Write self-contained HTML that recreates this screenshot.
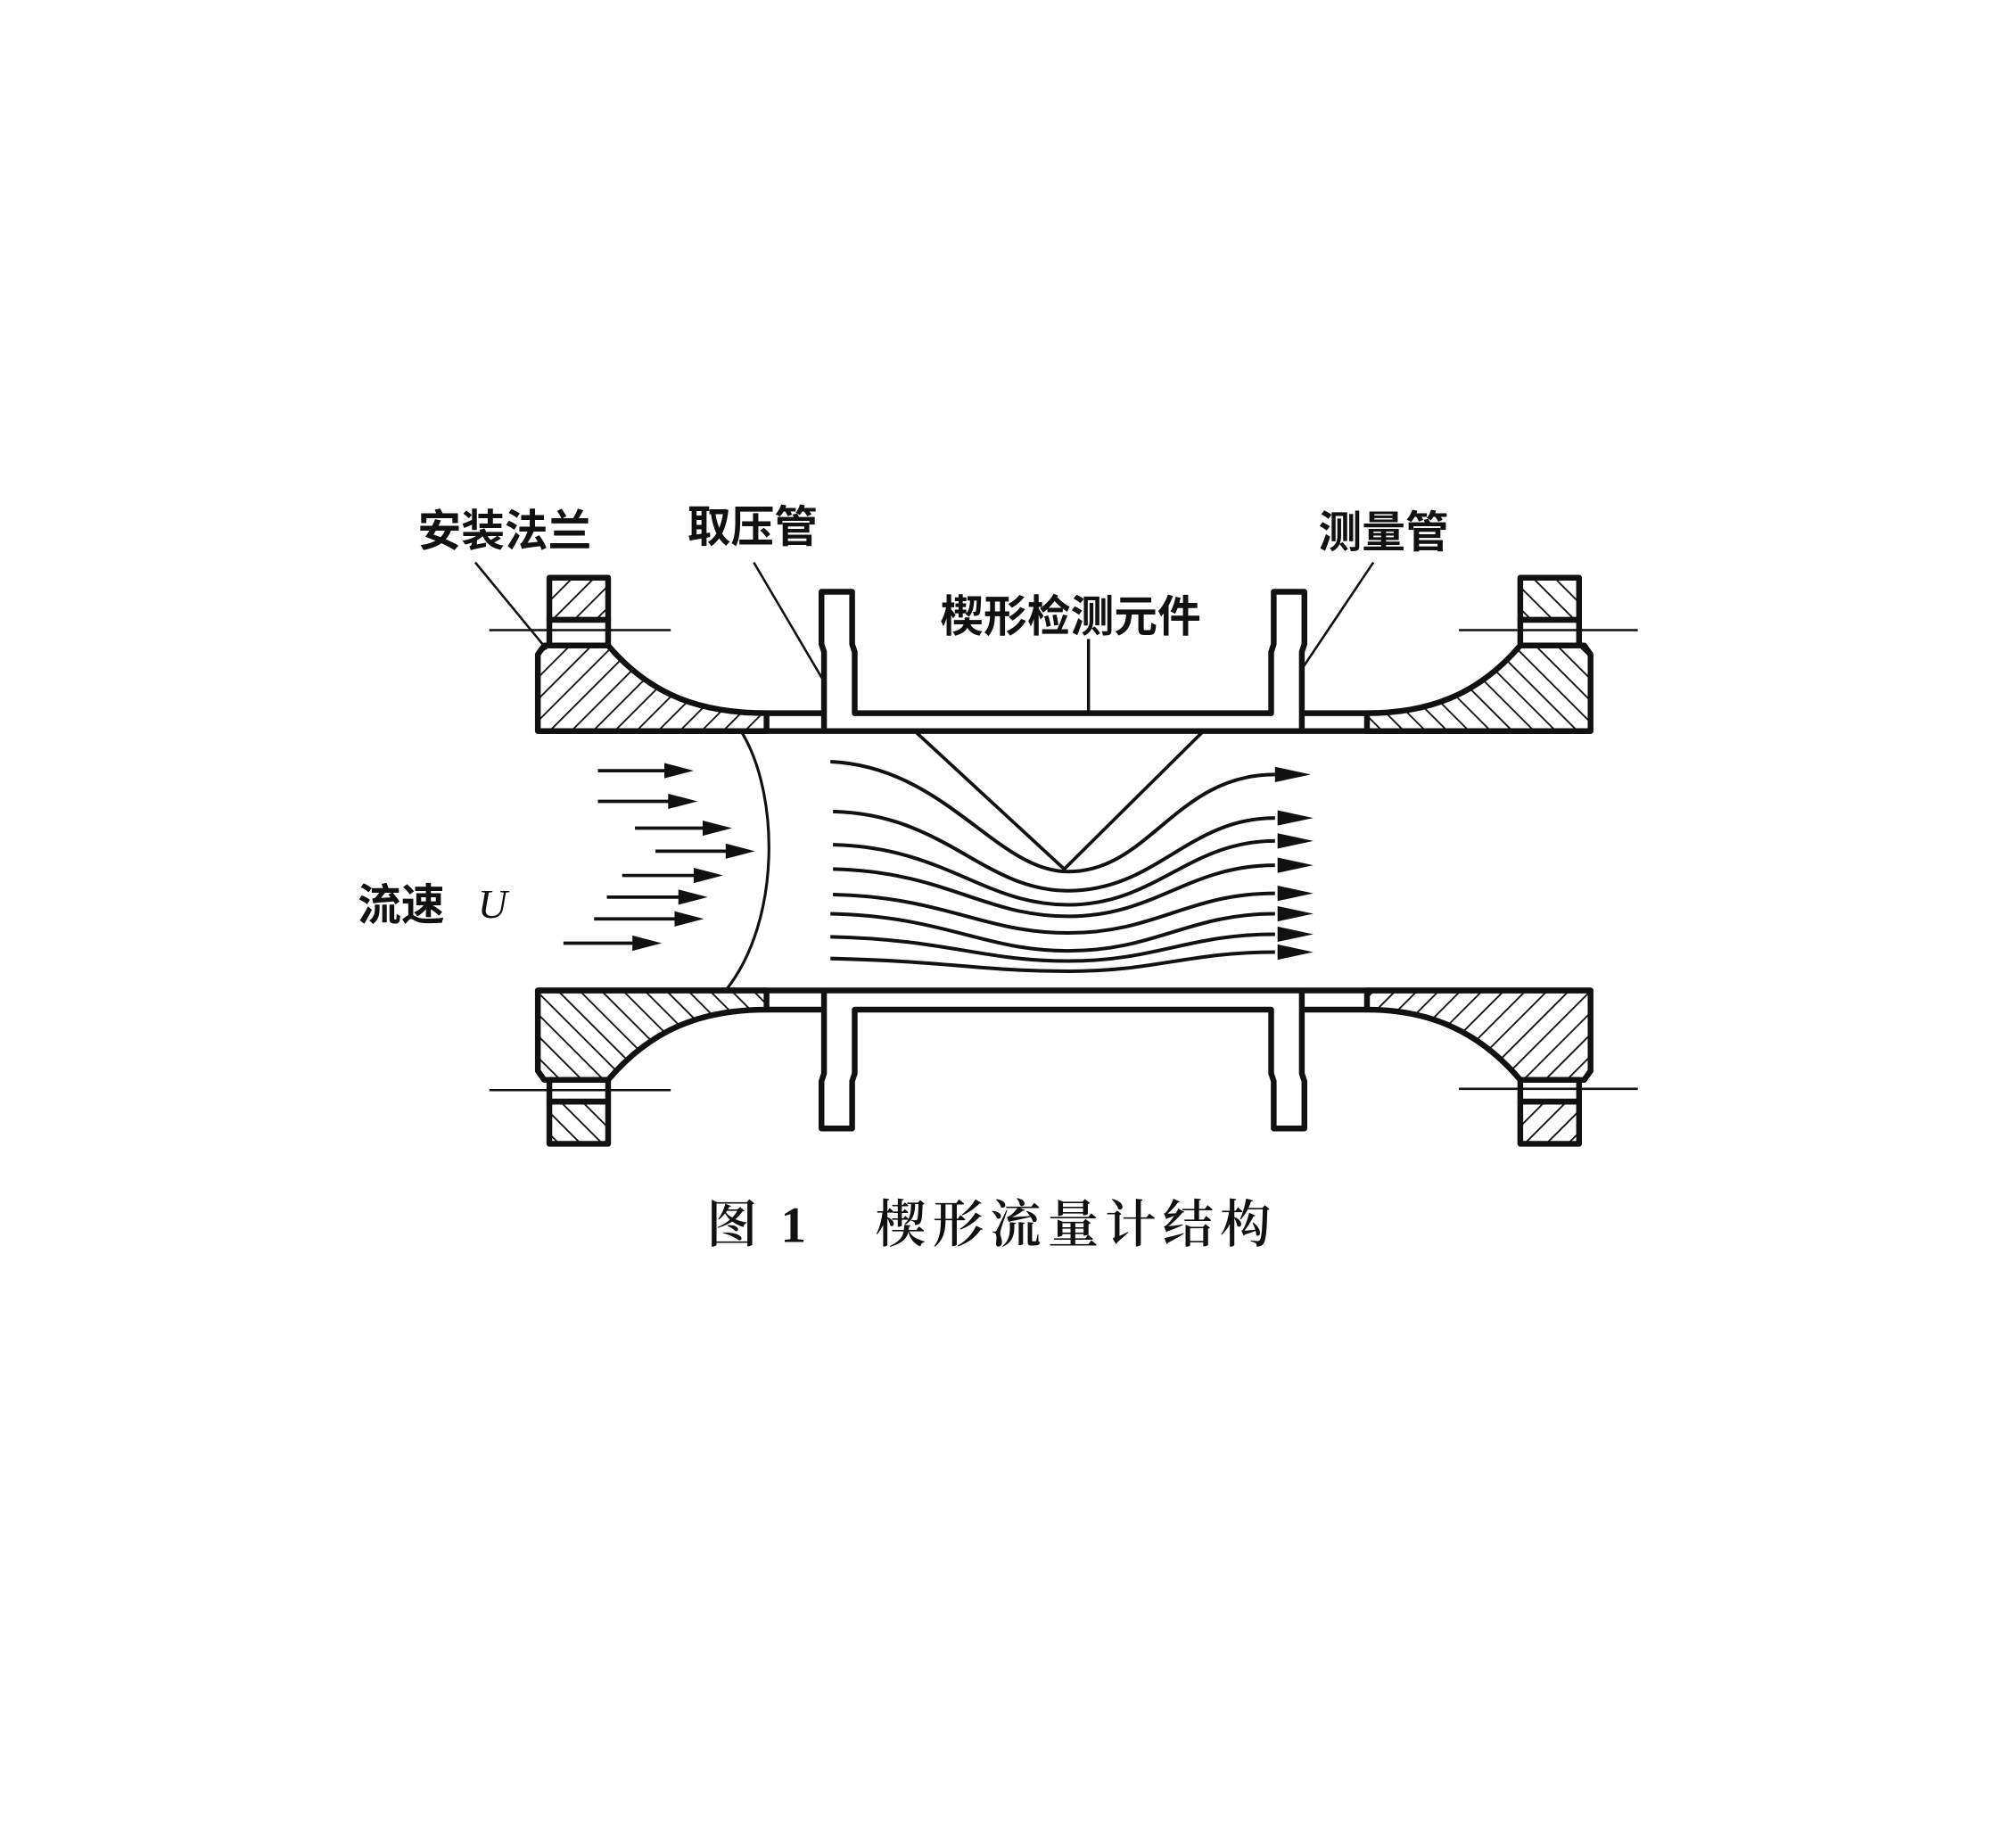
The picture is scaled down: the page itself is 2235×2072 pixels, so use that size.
<!DOCTYPE html>
<html><head><meta charset="utf-8"><style>
html,body{margin:0;padding:0;background:#fff;}
svg{display:block;}
text{font-family:"Liberation Serif","Noto Serif CJK SC","Noto Sans CJK SC",serif;fill:#111;}
</style></head><body>
<svg width="2235" height="2072" viewBox="0 0 1560 1446" xmlns="http://www.w3.org/2000/svg">
<defs>
<pattern id="h" patternUnits="userSpaceOnUse" width="12" height="12" patternTransform="rotate(45)">
<line x1="0" y1="0" x2="0" y2="12" stroke="#111" stroke-width="2.6"/>
</pattern>
<pattern id="h2" patternUnits="userSpaceOnUse" width="12" height="12" patternTransform="rotate(-45)">
<line x1="0" y1="0" x2="0" y2="12" stroke="#111" stroke-width="2.6"/>
</pattern>
</defs>
<g stroke="#111" stroke-width="4.5" fill="none" stroke-linejoin="round">
<rect x="430" y="452" width="46" height="33" fill="url(#h)"/>
<rect x="430" y="485" width="46" height="20" fill="#fff"/>
<path d="M426 505 L476 505 C510 545 550 558 600 558 L600 572 L421 572 L421 512 Z" fill="url(#h)"/>
<path d="M421 775 L600 775 L600 790 C550 790 510 805 476 845 L426 845 L421 838 Z" fill="url(#h2)"/>
<rect x="430" y="845" width="46" height="17" fill="#fff"/>
<rect x="430" y="862" width="46" height="33" fill="url(#h2)"/>
<rect x="1190" y="452" width="46" height="33" fill="url(#h2)"/>
<rect x="1190" y="485" width="46" height="20" fill="#fff"/>
<path d="M1240 505 L1190 505 C1156 545 1116 558 1070 558 L1070 572 L1245 572 L1245 512 Z" fill="url(#h2)"/>
<path d="M1245 775 L1070 775 L1070 790 C1116 790 1156 805 1190 845 L1240 845 L1245 838 Z" fill="url(#h)"/>
<rect x="1190" y="845" width="46" height="17" fill="#fff"/>
<rect x="1190" y="862" width="46" height="33" fill="url(#h)"/>
<line x1="421" y1="572" x2="1245" y2="572"/>
<line x1="421" y1="775" x2="1245" y2="775"/>
<line x1="600" y1="558" x2="645" y2="558"/>
<line x1="1020" y1="558" x2="1070" y2="558"/>
<line x1="600" y1="790" x2="645" y2="790"/>
<line x1="1020" y1="790" x2="1070" y2="790"/>
<path d="M645 572 L645 510 L643 504 L643 463 L667 463 L667 504 L669 510 L669 558 L995 558 L995 510 L997 504 L997 463 L1021 463 L1021 504 L1019 510 L1019 572"/>
<path d="M645 775 L645 840 L643 846 L643 883 L667 883 L667 846 L669 840 L669 790 L995 790 L995 840 L997 846 L997 883 L1021 883 L1021 846 L1019 840 L1019 775"/>
</g>
<g stroke="#111" fill="none">
<line x1="383" y1="493" x2="525" y2="493" stroke-width="1.8"/>
<line x1="383" y1="853" x2="525" y2="853" stroke-width="1.8"/>
<line x1="1142" y1="493" x2="1282" y2="493" stroke-width="1.8"/>
<line x1="1142" y1="852" x2="1282" y2="852" stroke-width="1.8"/>
<line x1="372" y1="440" x2="428" y2="508" stroke-width="1.8"/>
<line x1="590" y1="440" x2="646" y2="535" stroke-width="1.8"/>
<line x1="1075" y1="440" x2="1020" y2="522" stroke-width="1.8"/>
<line x1="852" y1="500" x2="852" y2="558" stroke-width="2.4"/>
<path d="M716 572 L833 680 L942 572" stroke-width="2.6"/>
<path d="M580 572 C610 620 612 720 568 775" stroke-width="2.2"/>
<g stroke-width="2.8">
<path d="M650 596 C740 600 780 682 836 682 C900 682 920 606 998 606"/>
<path d="M652 635 C740 637 770 697 836 697 C905 697 930 640 998 640"/>
<path d="M652 661 C740 663 770 708 836 708 C905 708 930 658 998 658"/>
<path d="M652 680 C740 682 770 717 836 717 C905 717 930 677 998 677"/>
<path d="M652 700 C740 702 770 730 836 730 C905 730 930 699 998 699"/>
<path d="M650 715 C740 717 770 744 836 744 C905 744 930 715 998 715"/>
<path d="M650 733 C740 735 770 752 836 752 C905 752 930 731 998 731"/>
<path d="M650 750 C740 752 770 760 836 760 C905 760 930 745 998 745"/>
</g>
</g>
<g fill="#111">
<polygon points="998,600 1026,606 998,612"/>
<polygon points="1000,634 1028,640 1000,646"/>
<polygon points="1000,652 1028,658 1000,664"/>
<polygon points="1000,671 1028,677 1000,683"/>
<polygon points="1000,693 1028,699 1000,705"/>
<polygon points="1000,709 1028,715 1000,721"/>
<polygon points="1000,725 1028,731 1000,737"/>
<polygon points="1000,739 1028,745 1000,751"/>
</g>
<g stroke="#111" stroke-width="2.6">
<line x1="468" y1="603" x2="525" y2="603"/>
<line x1="468" y1="627" x2="528" y2="627"/>
<line x1="497" y1="648" x2="555" y2="648"/>
<line x1="513" y1="666" x2="573" y2="666"/>
<line x1="487" y1="685" x2="548" y2="685"/>
<line x1="475" y1="702" x2="536" y2="702"/>
<line x1="465" y1="719" x2="533" y2="719"/>
<line x1="441" y1="738" x2="500" y2="738"/>
</g>
<g fill="#111">
<polygon points="520,597 543,603 520,609"/>
<polygon points="523,621 546,627 523,633"/>
<polygon points="550,642 573,648 550,654"/>
<polygon points="568,660 591,666 568,672"/>
<polygon points="543,679 566,685 543,691"/>
<polygon points="531,696 554,702 531,708"/>
<polygon points="528,713 551,719 528,725"/>
<polygon points="495,732 518,738 495,744"/>
</g>
<g font-size="34" font-weight="bold">
<text x="327" y="427" style="font-family:'Liberation Sans','Noto Sans CJK SC',sans-serif">安装法兰</text>
<text x="538" y="424" style="font-family:'Liberation Sans','Noto Sans CJK SC',sans-serif">取压管</text>
<text x="1032" y="428" style="font-family:'Liberation Sans','Noto Sans CJK SC',sans-serif">测量管</text>
<text x="736" y="494" style="font-family:'Liberation Sans','Noto Sans CJK SC',sans-serif">楔形检测元件</text>
<text x="280" y="720" style="font-family:'Liberation Sans','Noto Sans CJK SC',sans-serif">流速</text>
</g>
<text x="374" y="718" font-size="32" font-style="italic">U</text>
<text x="553" y="972" font-size="40" font-weight="600" letter-spacing="4">图 1</text>
<text x="685" y="972" font-size="40" font-weight="600" letter-spacing="5">楔形流量计结构</text>
</svg>
</body></html>
